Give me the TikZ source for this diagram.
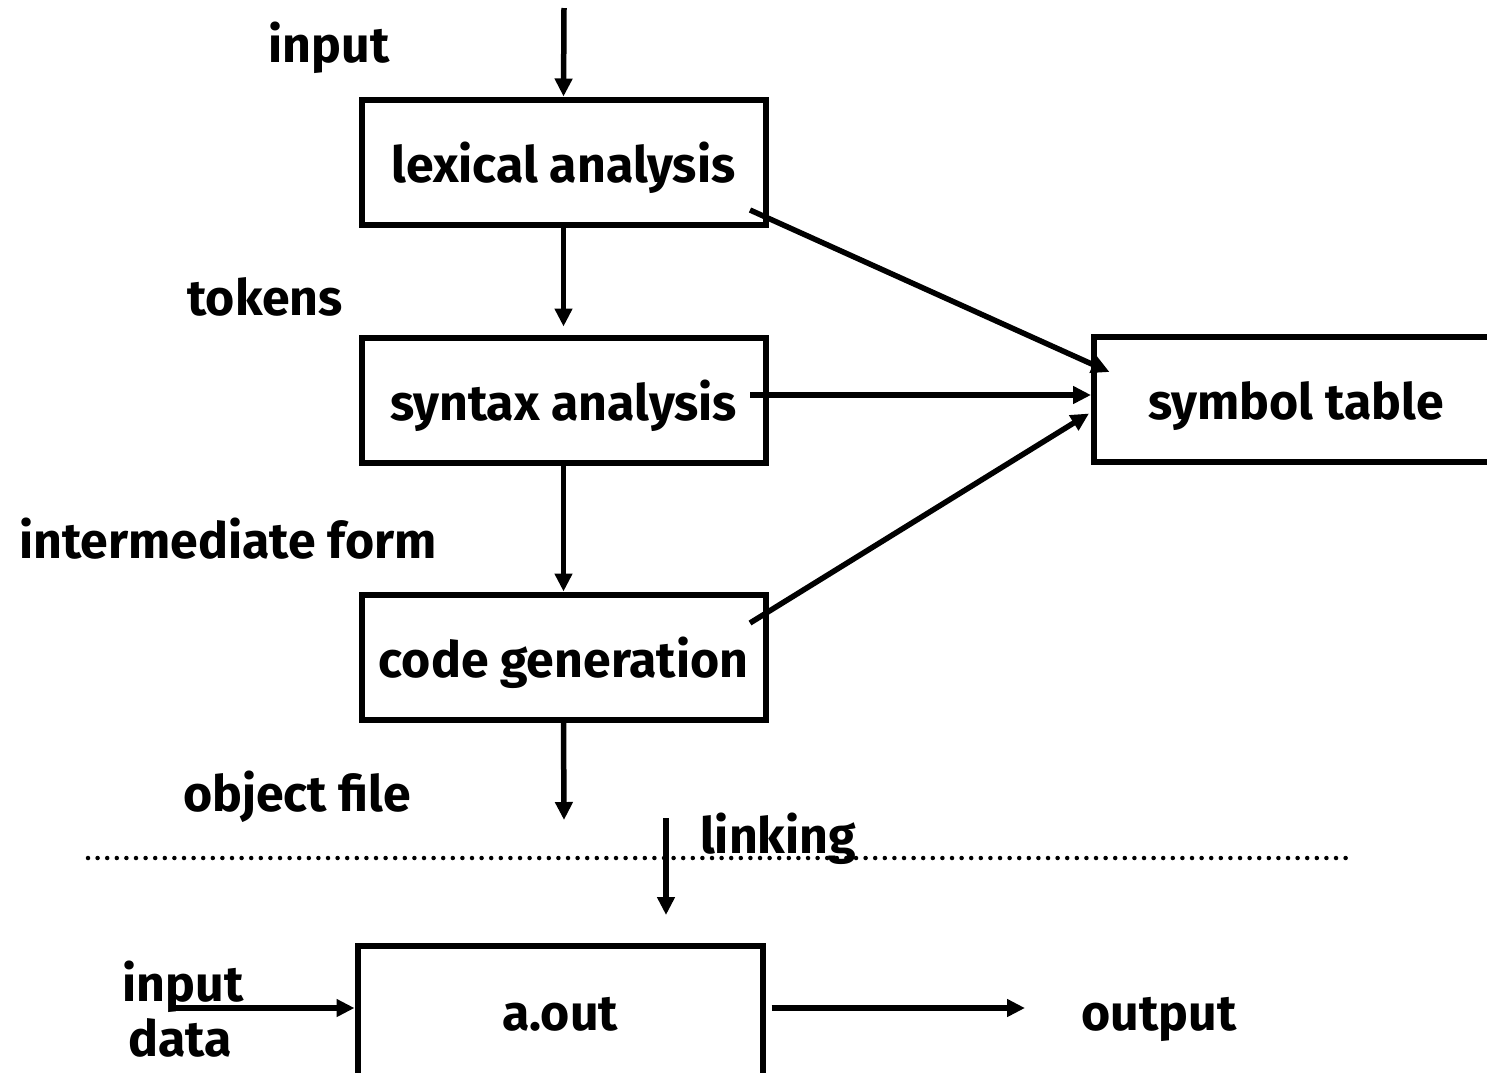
\documentclass[tikz,border=0pt]{standalone}
\usepackage{fontspec}
\setmainfont{Fira Sans}
\usetikzlibrary{arrows.meta,calc}

\begin{document}
\begin{tikzpicture}[x=1pt,y=-1pt,
  every node/.style={font=\fontsize{50}{60}\selectfont\bfseries},
  stage/.style={draw,line width=6pt,minimum width=404pt,minimum height=125pt,
    inner sep=0pt,text height=45pt,text depth=5pt},
  lbl/.style={inner sep=0pt,anchor=base},
  flow/.style={line width=5.5pt,-{Triangle[length=18pt,width=17pt]}},
  sep/.style={line width=4.5pt,line cap=round,dash pattern=on 0pt off 9.6pt}]
\clip (0,0) rectangle (1487,1072);

% compiler stages
\node[stage] (lex) at (563.5,162) {lexical analysis};
\node[stage] (syn) at (563.5,400) {syntax analysis};
\node[stage] (gen) at (563.5,657) {code generation};
\node[stage] (sym) at (1296,399) {symbol table};
\node[stage,minimum width=405pt,minimum height=140pt,text height=34pt] (aout) at (560,1015.5) {a.out};

% labels beside the flow (placed by baseline)
\node[lbl] (tin)  at (329,62)   {input};
\node[lbl] (ttok) at (265,315)  {tokens};
\node[lbl] (tint) at (228,558)  {intermediate form};
\node[lbl] (tobj) at (297,811)  {object file};
\node[lbl] (tlnk) at (778,853)  {linking};
\node[lbl] (tin2) at (183,1001) {input};
\node[lbl] (tdat) at (180,1056) {data};
\node[lbl] (tout) at (1159,1030) {output};

% free ends of connectors
\coordinate (src)  at (564,8);
\coordinate (obj)  at (564,820);
\coordinate (lk0)  at (666,818);
\coordinate (lk1)  at (666,915);
\coordinate (ind)  at (170,1008);
\coordinate (outp) at (1025,1008);

% main flow
\draw[flow] (src) -- (lex.north);
\draw[flow,shorten >=8pt] (lex.south) -- (syn.north);
\draw[flow] (syn.south) -- (gen.north);
\draw[flow] (gen.south) -- (obj);

% symbol table accesses
\draw[flow] ($(lex.south east)+(-18.5,-17.5)$) -- ($(sym.north west)+(18.5,38.5)$);
\draw[flow] ($(syn.east)+(-18.5,-5)$) -- ($(sym.west)+(0,-4)$);
\draw[flow] ($(gen.east)+(-18.5,-34)$) -- ($(sym.west)+(-2,14.5)$);

% link step and run
\draw[sep] (88,858) -- (1355,858);
\draw[flow] (lk0) -- (lk1);
\draw[flow] (ind) -- (aout.west |- ind);
\draw[flow,shorten <=6pt] (aout.east |- outp) -- (outp);
\end{tikzpicture}
\end{document}
